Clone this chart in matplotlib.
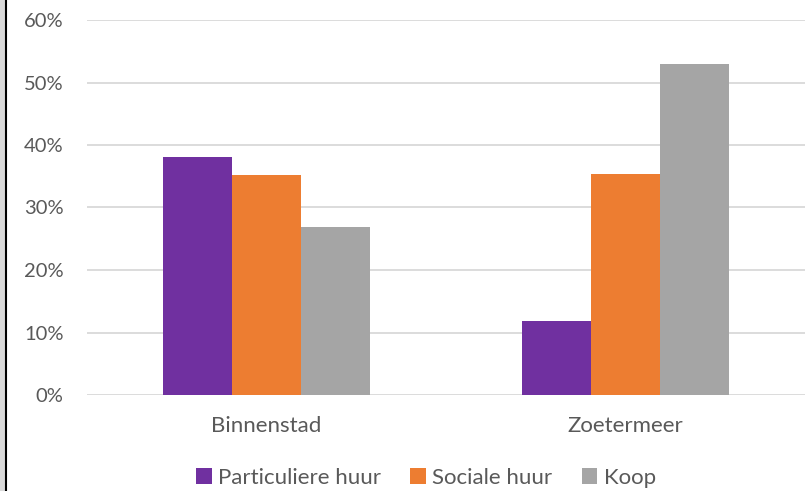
import numpy as np
import matplotlib
matplotlib.use("Agg")
import matplotlib.pyplot as plt
from matplotlib.patches import Rectangle
from matplotlib.lines import Line2D
from matplotlib.ticker import PercentFormatter

categories = ["Binnenstad", "Zoetermeer"]
series = ["Particuliere huur", "Sociale huur", "Koop"]
particuliere = [0.381, 0.119]
sociale = [0.352, 0.353]
koop = [0.269, 0.530]
colors = ["#7030A0", "#ED7D31", "#A5A5A5"]

plt.rcParams["font.family"] = ["Lato", "DejaVu Sans"]
text_color = "#595959"

fig = plt.figure(figsize=(8.11, 4.91), dpi=100)
ax = fig.add_axes([87 / 811, 1 - 395 / 491, 718 / 811, 375 / 491])

x = np.arange(len(categories))
width = 0.192
for i, (vals, name) in enumerate(zip([particuliere, sociale, koop], series)):
    ax.bar(x + (i - 1) * width, vals, width, color=colors[i], label=name, zorder=3)

ax.set_xlim(-0.5, 1.5)
ax.set_ylim(0, 0.6)
ax.set_yticks(np.arange(0, 0.61, 0.1))
ax.yaxis.set_major_formatter(PercentFormatter(1.0, decimals=0))
ax.set_xticks(x)
ax.set_xticklabels(categories)
ax.grid(axis="y", color="#D9D9D9", linewidth=1.3, zorder=0)
for s in ax.spines.values():
    s.set_visible(False)
ax.tick_params(axis="both", length=0, colors=text_color)
ax.tick_params(axis="y", pad=17, labelsize=14.5)
ax.tick_params(axis="x", pad=15, labelsize=16)

fig.legend(loc="center", bbox_to_anchor=(426 / 811, 1 - 478 / 491), ncol=3,
           frameon=False, fontsize=16, handlelength=0.7, handleheight=0.7,
           handletextpad=0.3, columnspacing=1.3, labelcolor=text_color)

# left border of the chart frame
fig.patches.append(Rectangle((0, 0), 4 / 811, 1, transform=fig.transFigure,
                             color="#D9D9D9", zorder=0))
fig.lines.append(Line2D([5.5 / 811, 5.5 / 811], [0, 1], transform=fig.transFigure,
                        color="black", linewidth=1.5))

plt.savefig("out.png", dpi=100)
plt.close()
